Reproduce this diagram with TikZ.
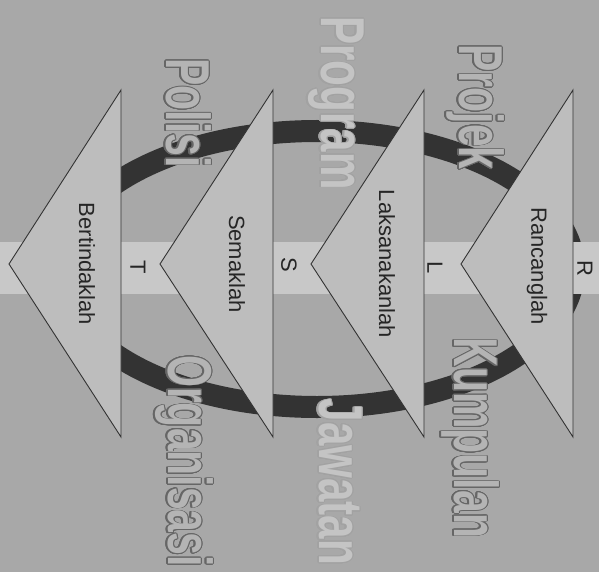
\documentclass[tikz,border=0pt]{standalone}
\usepackage{fontspec}
\setmainfont{Liberation Sans}
\usepackage{contour}
\contourlength{1.1pt}
\contournumber{24}
\definecolor{bgc}{HTML}{A8A8A8}
\definecolor{tfill}{HTML}{BDBDBD}
\definecolor{bandc}{HTML}{C8C8C8}
\definecolor{ringc}{HTML}{333333}
\definecolor{bigfill}{HTML}{B4B4B4}
\definecolor{bigline}{HTML}{666666}
\definecolor{fadefill}{HTML}{C4C4C4}
\definecolor{fadeline}{HTML}{A2A2A2}
\newcommand{\bigword}[1]{\scalebox{0.66}[1]{\contour{bigline}{\textcolor{bigfill}{#1}}}}
\newcommand{\fadeword}[1]{\scalebox{0.68}[1]{\contour{fadeline}{\textcolor{fadefill}{#1}}}}
\begin{document}
\begin{tikzpicture}[x=1pt,y=-1pt,
  tri/.style={draw=black!80, line width=0.9pt, fill=tfill, line join=miter},
  lab/.style={rotate=-90, font=\fontsize{22}{22}\selectfont, text=black!85, inner sep=0pt},
  big/.style={rotate=-90, anchor=base, inner sep=0pt, font=\fontsize{62}{62}\selectfont\bfseries},
]
\fill[bgc] (0,0) rectangle (599,572);
\useasboundingbox (0,0) rectangle (599,572);
\draw[ringc, line width=22pt] (317,269) ellipse [x radius=257, y radius=138];
\fill[bandc] (0,242) rectangle (599,294);
% triangles (chevrons pointing left)
\draw[tri] (121,90) -- (9,264) -- (121,437) -- cycle;
\draw[tri] (273,90) -- (160,264) -- (273,437) -- cycle;
\draw[tri] (424,90) -- (311,264) -- (424,437) -- cycle;
\draw[tri] (573,90) -- (461,264) -- (573,437) -- cycle;
% step labels
\node[lab] (rancang) at (537,266) {Rancanglah};
\node[lab] (laksana) at (387,264) {Laksanakanlah};
\node[lab] (semak) at (237,264) {Semaklah};
\node[lab] (bertindak) at (87,264) {Bertindaklah};
% letters
\node[lab] (lr) at (585,268) {R};
\node[lab] (ll) at (435,268) {L};
\node[lab] (ls) at (289,265) {S};
\node[lab] (lt) at (138,267) {T};
% big outlined words
\node[big] (projek) at (459,107) {\bigword{Projek}};
\node[big] (kumpulan) at (454,438) {\bigword{Kumpulan}};
\node[big] (program) at (321,103) {\fadeword{Program}};
\node[big] (jawatan) at (319,482) {\fadeword{Jawatan}};
\node[big] (polisi) at (166,113) {\bigword{Polisi}};
\node[big] (organisasi) at (168,461) {\bigword{Organisasi}};
\end{tikzpicture}
\end{document}
